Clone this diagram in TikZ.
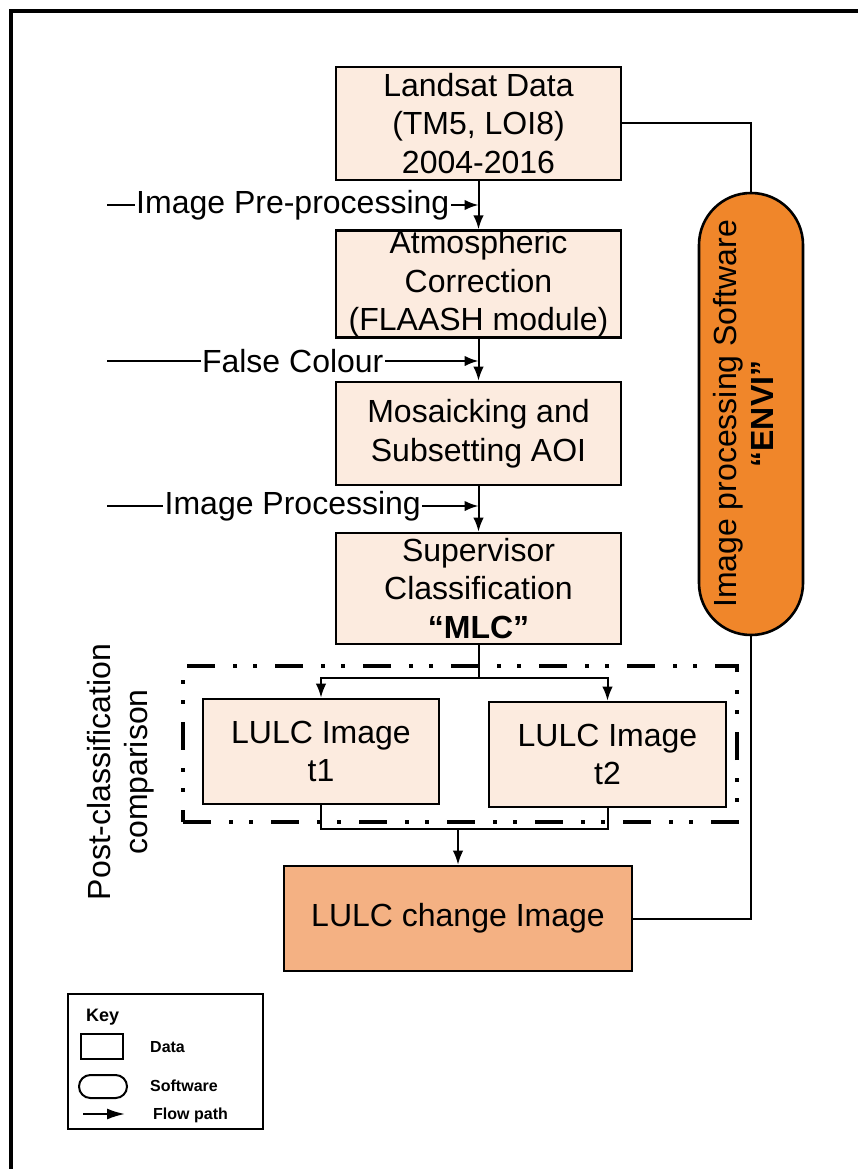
\documentclass[tikz,border=0pt]{standalone}
\usepackage{fontspec}
\setmainfont{Liberation Sans}
\usetikzlibrary{arrows.meta,calc}

\definecolor{peach}{RGB}{252,235,223}
\definecolor{changefill}{RGB}{244,177,131}
\definecolor{envifill}{RGB}{240,134,42}

\newcommand\bodyfont{\fontsize{32}{38.5}\selectfont}
\newcommand\sidefont{\fontsize{32}{37}\selectfont}
\newcommand\keyfont{\fontsize{16}{19}\selectfont\bfseries}

\tikzset{
  databox/.style={draw, line width=2.6pt, fill=peach, inner sep=0pt, align=center, font=\bodyfont},
  softbox/.style={draw, line width=2.6pt, fill=envifill, inner sep=0pt},
  pccframe/.style={draw, line width=4pt, inner sep=0pt,
    dash pattern=on 28pt off 18pt on 4pt off 16pt on 4pt off 18pt},
  conn/.style={draw, line width=2pt},
  flow/.style={conn, -{Latex[length=14pt,width=10.5pt]}},
  lbl/.style={fill=white, inner xsep=1.5pt, inner ysep=0pt, font=\bodyfont},
  keylbl/.style={anchor=west, inner sep=0pt, font=\keyfont},
}

\begin{document}
\begin{tikzpicture}[x=1pt,y=-1pt]
\useasboundingbox (0,0) rectangle (858,1169);
\fill[white] (0,0) rectangle (858,1169);
% outer frame
\draw[line width=4pt] (11,1180) -- (11,11) -- (870,11);

% process boxes
\node[databox, minimum width=285, minimum height=113] (landsat) at (478.5,123.5) {Landsat Data\\(TM5, LOI8)\\2004-2016};
\node[databox, minimum width=285, minimum height=106] (atmos) at (478.5,284) {Atmospheric\\Correction\\(FLAASH module)};
\node[databox, minimum width=285, minimum height=103] (mosaic) at (478.5,433.5) {Mosaicking and\\Subsetting AOI};
\node[databox, minimum width=285, minimum height=111] (sup) at (478.5,588.5) {Supervisor\\Classification\\\textbf{“MLC”}};
\node[databox, minimum width=236, minimum height=105] (t1) at (321,751.5) {LULC Image\\t1};
\node[databox, minimum width=237, minimum height=105] (t2) at (607.5,754.5) {LULC Image\\t2};
\node[databox, fill=changefill, minimum width=348, minimum height=105] (change) at (458,918.5) {LULC change Image};

% post-classification group
\node[pccframe, minimum width=554, minimum height=156] (pcc) at (460,744) {};
\node[rotate=90, align=center, font=\sidefont] (pcclabel) at (121,772) {Post-classification\\comparison};

% software pill
\node[softbox, minimum width=104, minimum height=442, rounded corners=51.9pt] (envi) at (751,414) {};
\node[rotate=90, align=center, font=\sidefont] (envitext) at (743,414) {Image processing Software\\\textbf{“ENVI”}};

% main flow
\draw[flow] (landsat.south) -- (atmos.north);
\draw[flow] (atmos.south) -- (mosaic.north);
\draw[flow] (mosaic.south) -- (sup.north);

% step labels feeding the flow
\coordinate (s1) at (107,205);
\coordinate (s2) at (107,361);
\coordinate (s3) at (107,506);
\draw[flow] (s1) -- node[lbl] (l1) {Image Pre-processing} (s1 -| landsat.south);
\draw[flow] (s2) -- node[lbl] (l2) {False Colour} (s2 -| atmos.south);
\draw[flow] (s3) -- node[lbl] (l3) {Image Processing} (s3 -| mosaic.south);

% branch to the two dates
\coordinate (br) at ($(sup.south)+(0,33)$);
\draw[conn] (sup.south) -- (br);
\draw[flow] (br) -| (t1.north);
\draw[flow] (br) -| (t2.north);

% merge into the change image
\coordinate (mg) at (change.north |- 0,829);
\draw[conn] (t1.south) |- (mg) -| (t2.south);
\draw[flow] (mg) -- (change.north);

% software links
\draw[conn] (landsat.east) -| (envi.north);
\draw[conn] (envi.south) |- (change.east);

% key
\node[draw, line width=2.5pt, minimum width=195, minimum height=135, inner sep=0pt] (key) at (165.5,1061.5) {};
\node[anchor=west, inner sep=0pt, font=\fontsize{18}{21}\selectfont\bfseries] (keytitle) at (86,1017) {Key};
\node[draw, line width=2pt, minimum width=42, minimum height=25, inner sep=0pt] (kdata) at (102,1046.5) {};
\node[draw, line width=2pt, minimum width=48, minimum height=23, rounded corners=11.4pt, inner sep=0pt] (ksoft) at (103,1086.5) {};
\coordinate (ka) at (83,1114);
\coordinate (kb) at (125,1114);
\draw[line width=2pt, -{Latex[length=18pt,width=11pt]}] (ka) -- (kb);
\node[keylbl] (kdatal) at (150,1047) {Data};
\node[keylbl] (ksoftl) at (150,1086) {Software};
\node[keylbl] (kflowl) at (153,1115) {Flow path};
\end{tikzpicture}
\end{document}
